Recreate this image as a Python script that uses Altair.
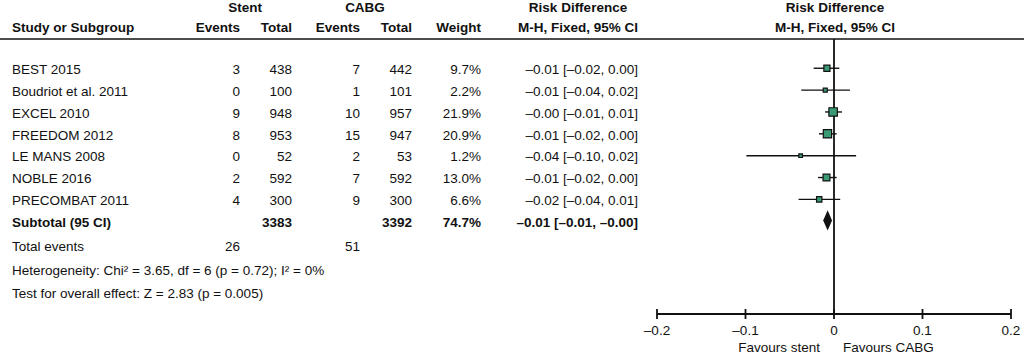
import altair as alt
import pandas as pd

FONT = "Liberation Sans"
FS = 13.5
INK = "#111111"
GREEN = "#3a9a74"

# ---- data ----
studies = ["BEST 2015", "Boudriot et al. 2011", "EXCEL 2010", "FREEDOM 2012",
           "LE MANS 2008", "NOBLE 2016", "PRECOMBAT 2011"]
stent_events = [3, 0, 9, 8, 0, 2, 4]
stent_total = [438, 100, 948, 953, 52, 592, 300]
cabg_events = [7, 1, 10, 15, 2, 7, 9]
cabg_total = [442, 101, 957, 947, 53, 592, 300]
weights = [9.7, 2.2, 21.9, 20.9, 1.2, 13.0, 6.6]
ci_text = ["\u20130.01 [\u20130.02, 0.00]", "\u20130.01 [\u20130.04, 0.02]",
           "\u20130.00 [\u20130.01, 0.01]", "\u20130.01 [\u20130.02, 0.00]",
           "\u20130.04 [\u20130.10, 0.02]", "\u20130.01 [\u20130.02, 0.00]",
           "\u20130.02 [\u20130.04, 0.01]"]
rd_est = [-0.008, -0.0099, -0.001, -0.0074, -0.0377, -0.0085, -0.0167]
rd_lo = [-0.023, -0.037, -0.010, -0.017, -0.099, -0.018, -0.040]
rd_hi = [0.006, 0.018, 0.009, 0.003, 0.025, 0.003, 0.007]

sub_label = "Subtotal (95 CI)"
sub_stent_total = 3383
sub_cabg_total = 3392
sub_weight = 74.7
sub_ci_text = "\u20130.01 [\u20130.01, \u20130.00]"
sub_est = -0.0072
sub_lo = -0.0122
sub_hi = -0.0022

total_events_stent = 26
total_events_cabg = 51
heterogeneity = "Heterogeneity: Chi\u00b2 = 3.65, df = 6 (p = 0.72); I\u00b2 = 0%"
overall = "Test for overall effect: Z = 2.83 (p = 0.005)"

ticks = [-0.2, -0.1, 0.0, 0.1, 0.2]
tick_labels = ["\u20130.2", "\u20130.1", "0", "0.1", "0.2"]

# ---- tables ----
n = len(studies)
df = pd.DataFrame({
    "row": list(range(n)),
    "mrow": [r - 0.08 for r in range(n)],
    "study": studies,
    "se": [str(v) for v in stent_events],
    "st": [str(v) for v in stent_total],
    "ce": [str(v) for v in cabg_events],
    "ct": [str(v) for v in cabg_total],
    "w": [f"{v:.1f}%" for v in weights],
    "wv": weights,
    "ci": ci_text,
    "est": rd_est,
    "lo": rd_lo,
    "hi": rd_hi,
})
sub = pd.DataFrame({
    "row": [n],
    "study": [sub_label],
    "st": [str(sub_stent_total)],
    "ct": [str(sub_cabg_total)],
    "w": [f"{sub_weight:.1f}%"],
    "ci": [sub_ci_text],
})
half = 0.46
center = n - 0.12
diamond = pd.DataFrame({
    "x": [sub_lo, sub_est, sub_hi],
    "y": [center, center - half, center],
    "y2": [center, center + half, center],
})

xscale = alt.Scale(domain=[-0.2, 0.2], range=[657, 1011], nice=False, zero=False)
yscale = alt.Scale(domain=[0, n], range=[70, 223], nice=False, zero=False)


def col_layer(data, field, x, align, bold=False):
    return alt.Chart(data).mark_text(
        align=align, baseline="middle", font=FONT, fontSize=FS,
        fontWeight="bold" if bold else "normal", color=INK
    ).encode(
        x=alt.value(x),
        y=alt.Y("row:Q", scale=yscale, axis=None),
        text=alt.Text(f"{field}:N"),
    )


def label(text, x, y, align="left", bold=False):
    return alt.Chart(pd.DataFrame({"t": [text]})).mark_text(
        align=align, baseline="middle", font=FONT, fontSize=FS,
        fontWeight="bold" if bold else "normal", color=INK
    ).encode(x=alt.value(x), y=alt.value(y), text="t:N")


layers = []

# headers
layers += [
    label("Stent", 245, 8, "center", True),
    label("CABG", 365, 8, "center", True),
    label("Risk Difference", 578, 8, "center", True),
    label("Risk Difference", 835, 8, "center", True),
    label("Study or Subgroup", 12, 28, "left", True),
    label("Events", 240, 28, "right", True),
    label("Total", 292, 28, "right", True),
    label("Events", 360, 28, "right", True),
    label("Total", 412, 28, "right", True),
    label("Weight", 481, 28, "right", True),
    label("M-H, Fixed, 95% CI", 638, 28, "right", True),
    label("M-H, Fixed, 95% CI", 835, 28, "center", True),
]

# header separator
layers.append(
    alt.Chart(pd.DataFrame({"a": [0]})).mark_rule(color=INK, strokeWidth=1.6).encode(
        x=alt.value(0), x2=alt.value(1024), y=alt.value(39)
    )
)

# study columns
cols = [("study", 12, "left"), ("se", 240, "right"), ("st", 292, "right"),
        ("ce", 360, "right"), ("ct", 412, "right"), ("w", 481, "right"),
        ("ci", 638, "right")]
for f, x, a in cols:
    layers.append(col_layer(df, f, x, a))
for f, x, a in cols:
    if f in sub.columns:
        layers.append(col_layer(sub, f, x, a, bold=True))

# footer text
layers += [
    label("Total events", 12, 247),
    label(str(total_events_stent), 240, 247, "right"),
    label(str(total_events_cabg), 360, 247, "right"),
    label(heterogeneity, 12, 271),
    label(overall, 12, 294),
]

# zero line
layers.append(
    alt.Chart(pd.DataFrame({"x": [0.0]})).mark_rule(color=INK, strokeWidth=1.8).encode(
        x=alt.X("x:Q", scale=xscale, axis=None), y=alt.value(39), y2=alt.value(314)
    )
)

# axis line and ticks
axis_df = pd.DataFrame({"tick": ticks, "lab": tick_labels})
layers.append(
    alt.Chart(pd.DataFrame({"a": [ticks[0]], "b": [ticks[-1]]})).mark_rule(
        color=INK, strokeWidth=1.8
    ).encode(x=alt.X("a:Q", scale=xscale, axis=None), x2="b:Q", y=alt.value(314))
)
layers.append(
    alt.Chart(axis_df).mark_rule(color=INK, strokeWidth=1.8).encode(
        x=alt.X("tick:Q", scale=xscale, axis=None), y=alt.value(309), y2=alt.value(319)
    )
)
layers.append(
    alt.Chart(axis_df).mark_text(
        align="center", baseline="middle", font=FONT, fontSize=FS, color=INK
    ).encode(x=alt.X("tick:Q", scale=xscale, axis=None), y=alt.value(331), text="lab:N")
)
layers += [
    label("Favours stent", 820, 348, "right"),
    label("Favours CABG", 843, 348, "left"),
]

# CI lines
layers.append(
    alt.Chart(df).mark_rule(color=INK, strokeWidth=1.4).encode(
        x=alt.X("lo:Q", scale=xscale, axis=None), x2="hi:Q",
        y=alt.Y("mrow:Q", scale=yscale, axis=None),
    )
)
# squares
layers.append(
    alt.Chart(df).mark_square(
        fill=GREEN, fillOpacity=1, stroke=INK, strokeWidth=1.2, filled=False
    ).encode(
        x=alt.X("est:Q", scale=xscale, axis=None),
        y=alt.Y("mrow:Q", scale=yscale, axis=None),
        size=alt.Size("wv:Q", scale=alt.Scale(domain=[0, 22], range=[10, 72]), legend=None),
    )
)
# diamond
layers.append(
    alt.Chart(diamond).mark_area(color=INK, orient="vertical").encode(
        x=alt.X("x:Q", scale=xscale, axis=None),
        y=alt.Y("y:Q", scale=yscale, axis=None),
        y2="y2:Q",
    )
)

chart = alt.layer(*layers).properties(
    width=1024, height=354, padding=0,
    autosize=alt.AutoSizeParams(type="none"),
    background="white",
).configure_view(stroke=None)

chart.save("out.html", embed_options={"renderer": "svg", "actions": False})
